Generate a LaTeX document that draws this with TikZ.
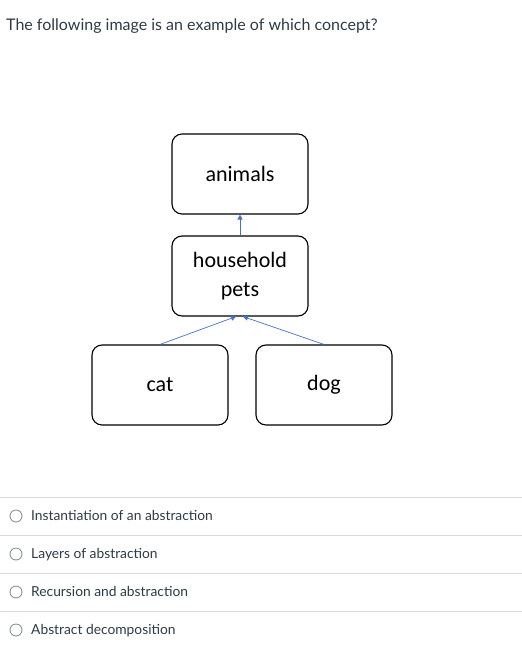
\documentclass[tikz,border=0pt]{standalone}
\usepackage{fontspec}
\setmainfont{Lato}
\newfontfamily\carlito{Carlito}
\usetikzlibrary{arrows.meta}
\definecolor{qtext}{HTML}{2D3B45}
\definecolor{rule}{HTML}{D7DBDE}
\definecolor{radio}{HTML}{7A858D}
\definecolor{link}{HTML}{4472C4}

\begin{document}
\begin{tikzpicture}[x=1pt,y=-1pt,
  box/.style={draw,line width=1.1pt,rounded corners=10pt,minimum width=136pt,minimum height=80pt,
    align=center,font=\carlito\fontsize{22}{28.5}\selectfont},
  opt/.style={anchor=base west,inner sep=0pt,text=qtext,font=\fontsize{13.8}{16}\selectfont},
  radiobtn/.style={circle,draw=radio,line width=0.8pt,minimum size=12pt,inner sep=0pt}]
\useasboundingbox (0,0) rectangle (522,648);
\node[anchor=base west,inner sep=0pt,text=qtext,font=\fontsize{16}{19}\selectfont] (q) at (6,30) {The following image is an example of which concept?};
\node[box] (animals) at (240,174) {animals};
\node[box] (pets) at (240,276) {household\\pets};
\node[box] (cat) at (160,385) {cat};
\node[box] (dog) at (324,385) {dog};

\draw [-{Triangle[length=5pt,width=5pt]},link,line width=0.7pt] (pets) -- (animals);
\draw [-{Triangle[length=5pt,width=5pt]},link,line width=0.7pt] (cat.north) -- ([xshift=-4pt]pets.south);
\draw [-{Triangle[length=5pt,width=5pt]},link,line width=0.7pt] (dog.north) -- ([xshift=3pt]pets.south);

\draw [rule] (0,497) -- (522,497);
\draw [rule] (0,535) -- (522,535);
\draw [rule] (0,573) -- (522,573);
\draw [rule] (0,611) -- (522,611);
\node[radiobtn] (r1) at (16,516) {};
\node[radiobtn] (r2) at (16,554) {};
\node[radiobtn] (r3) at (16,592) {};
\node[radiobtn] (r4) at (16,630) {};
\node[opt] (o1) at (31,520.5) {Instantiation of an abstraction};
\node[opt] (o2) at (31,558.5) {Layers of abstraction};
\node[opt] (o3) at (31,596.5) {Recursion and abstraction};
\node[opt] (o4) at (31,634.5) {Abstract decomposition};
\end{tikzpicture}
\end{document}
